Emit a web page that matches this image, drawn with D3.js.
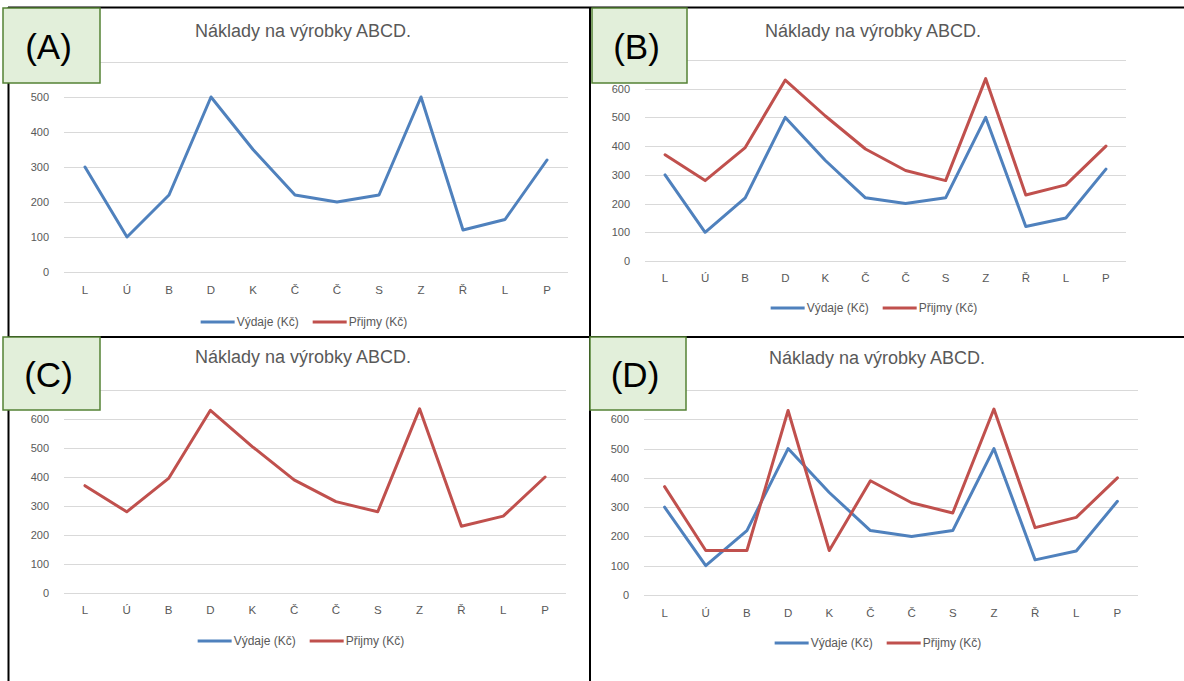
<!DOCTYPE html>
<html>
<head>
<meta charset="utf-8">
<script src="https://cdn.jsdelivr.net/npm/d3@7"></script>
<style>
  html, body { margin: 0; padding: 0; background: #fff; }
  svg { display: block; font-family: 'Liberation Sans', Arial, sans-serif; }
</style>
</head>
<body>
<svg id="chart" width="1184" height="681"></svg>
<script>
// data
const categories = ['L', 'Ú', 'B', 'D', 'K', 'Č', 'Č', 'S', 'Z', 'Ř', 'L', 'P']
const vydaje = [300, 100, 220, 500, 350, 220, 200, 220, 500, 120, 150, 320]
const prijmy = [370, 280, 395, 630, 505, 390, 315, 280, 635, 230, 265, 400]
const prijmyD = [370, 152, 152, 630, 152, 390, 315, 280, 635, 230, 265, 400]
const seriesNames = ['Výdaje (Kč)', 'Přijmy (Kč)']
const panelLabels = ['(A)', '(B)', '(C)', '(D)']
const title = 'Náklady na výrobky ABCD.'

const BLUE = '#4f81bd'
const RED = '#c0504d'
const GRID = '#d9d9d9'
const TXT = '#595959'

// layout of each panel (pixel positions only)
const panels = [
  { label: panelLabels[0], series: [vydaje], colors: [BLUE], max: 600,
    x0: 64, x1: 568, yBase: 272, yTop: 62, titleX: 303, titleY: 31, catY: 290, legY: 322, legX: 304,
    box: [3, 8, 97, 75] },
  { label: panelLabels[1], series: [vydaje, prijmy], colors: [BLUE, RED], max: 700,
    x0: 645, x1: 1126, yBase: 261, yTop: 60, titleX: 873, titleY: 31, catY: 278, legY: 308, legX: 874,
    box: [592, 8, 95, 75] },
  { label: panelLabels[2], series: [prijmy], colors: [RED], max: 700,
    x0: 64, x1: 566, yBase: 593, yTop: 390, titleX: 303, titleY: 357, catY: 610, legY: 641, legX: 301,
    box: [3, 337, 97, 73] },
  { label: panelLabels[3], series: [vydaje, prijmyD], colors: [BLUE, RED], max: 700,
    x0: 644, x1: 1138, yBase: 595, yTop: 390, titleX: 877, titleY: 358, catY: 613, legY: 643, legX: 878,
    box: [590, 337, 96, 73] }
]

const svg = d3.select('#chart')

panels.forEach(p => {
  const g = svg.append('g')
  const x = d3.scaleBand().domain(d3.range(categories.length)).range([p.x0, p.x1])
  const y = d3.scaleLinear().domain([0, p.max]).range([p.yBase, p.yTop])
  const ticks = d3.range(0, p.max + 1, 100)

  // gridlines
  g.selectAll('.grid').data(ticks).join('line')
    .attr('x1', p.x0).attr('x2', p.x1)
    .attr('y1', d => Math.round(y(d)) + 0.5).attr('y2', d => Math.round(y(d)) + 0.5)
    .attr('stroke', GRID).attr('stroke-width', 1)

  // y tick labels (the top one sits behind the green box, so it is not drawn)
  g.selectAll('.ytick').data(ticks.slice(0, -1)).join('text')
    .attr('x', p.x0 - 15).attr('y', d => y(d))
    .attr('text-anchor', 'end').attr('dominant-baseline', 'central')
    .attr('fill', TXT).style('font-size', '11px')
    .text(d => d)

  // category labels
  g.selectAll('.xtick').data(categories).join('text')
    .attr('x', (d, i) => x(i) + x.bandwidth() / 2).attr('y', p.catY)
    .attr('text-anchor', 'middle').attr('dominant-baseline', 'central')
    .attr('fill', TXT).style('font-size', '11.5px')
    .text(d => d)

  // lines
  const line = d3.line().x((d, i) => x(i) + x.bandwidth() / 2).y(d => y(d))
  p.series.forEach((s, si) => {
    g.append('path').datum(s)
      .attr('d', line)
      .attr('fill', 'none').attr('stroke', p.colors[si])
      .attr('stroke-width', 3).attr('stroke-linejoin', 'round').attr('stroke-linecap', 'round')
  })

  // title
  g.append('text')
    .attr('x', p.titleX).attr('y', p.titleY)
    .attr('text-anchor', 'middle').attr('dominant-baseline', 'central')
    .attr('fill', TXT).style('font-size', '18px')
    .text(title)

  // legend (always both series)
  const leg = g.append('g')
  let cx = 0
  seriesNames.forEach((name, i) => {
    const item = leg.append('g').attr('transform', `translate(${cx},0)`)
    item.append('line').attr('x1', 0).attr('x2', 34).attr('y1', 0).attr('y2', 0)
      .attr('stroke', [BLUE, RED][i]).attr('stroke-width', 3)
    const t = item.append('text').attr('x', 36).attr('y', 0)
      .attr('dominant-baseline', 'central').attr('fill', TXT).style('font-size', '12px')
      .text(name)
    cx += 36 + t.node().getComputedTextLength() + 14
  })
  const legW = cx - 14
  leg.attr('transform', `translate(${p.legX - legW / 2},${p.legY})`)
})

// table borders
const borders = [
  [8, 7.5, 1184, 7.5],
  [8.5, 7, 8.5, 681],
  [590, 7, 590, 681],
  [8, 337, 1184, 337]
]
svg.selectAll('.border').data(borders).join('line')
  .attr('x1', d => d[0]).attr('y1', d => d[1]).attr('x2', d => d[2]).attr('y2', d => d[3])
  .attr('stroke', '#000').attr('stroke-width', 2)

// labelled green boxes
panels.forEach(p => {
  const [bx, by, bw, bh] = p.box
  svg.append('rect').attr('x', bx).attr('y', by).attr('width', bw).attr('height', bh)
    .attr('fill', '#e2efda').attr('stroke', '#548235').attr('stroke-width', 1.5)
  svg.append('text').attr('x', bx + bw / 2 - 3).attr('y', by + bh / 2 + 1)
    .attr('text-anchor', 'middle').attr('dominant-baseline', 'central')
    .attr('fill', '#000').style('font-size', '35px')
    .text(p.label)
})
</script>
</body>
</html>
